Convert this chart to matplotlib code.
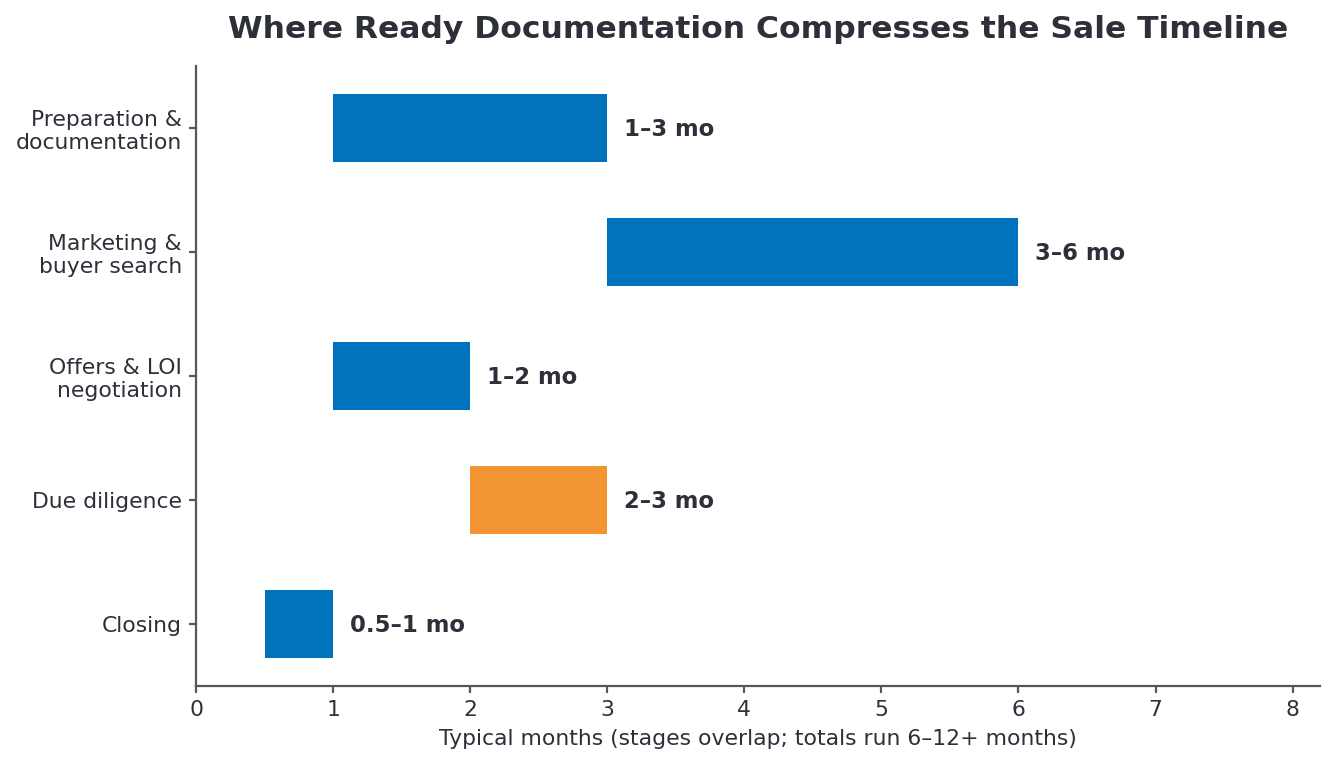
import matplotlib
matplotlib.use("Agg")
import matplotlib.pyplot as plt

stages = ["Preparation &\ndocumentation", "Marketing &\nbuyer search",
          "Offers & LOI\nnegotiation", "Due diligence", "Closing"]
start_mo = [1, 3, 1, 2, 0.5]
end_mo = [3, 6, 2, 3, 1]
range_labels = ["1–3 mo", "3–6 mo", "1–2 mo", "2–3 mo", "0.5–1 mo"]
highlight = "Due diligence"

blue = "#0173bd"
orange = "#f39533"
ink = "#2e3039"
spine = "#55575e"

fig, ax = plt.subplots(figsize=(6.67, 3.82), dpi=200)
fig.subplots_adjust(left=0.147, right=0.9895, bottom=0.102, top=0.9136)

ypos = list(range(len(stages)))
widths = [e - s for s, e in zip(start_mo, end_mo)]
colors = [orange if s == highlight else blue for s in stages]
ax.barh(ypos, widths, left=start_mo, height=0.55, color=colors)

for y, e, lab in zip(ypos, end_mo, range_labels):
    ax.annotate(lab, (e, y), xytext=(6, -0.5), textcoords="offset points",
                va="center", ha="left", fontsize=8.2, fontweight="bold", color=ink)

ax.set_yticks(ypos)
ax.set_yticklabels(stages)
ax.set_ylim(len(stages) - 0.5, -0.5)
ax.set_xlim(0, 8.2)
ax.set_xticks(range(0, 9))

ax.set_xlabel("Typical months (stages overlap; totals run 6–12+ months)",
              fontsize=7.9, color=ink, labelpad=3)
ax.set_title("Where Ready Documentation Compresses the Sale Timeline",
             fontsize=11.3, fontweight="bold", color=ink, pad=10)

for side in ["top", "right"]:
    ax.spines[side].set_visible(False)
for side in ["left", "bottom"]:
    ax.spines[side].set_color(spine)
    ax.spines[side].set_linewidth(0.8)
ax.tick_params(axis="both", labelsize=7.9, colors=spine, labelcolor=ink,
               length=2.5, width=0.8, pad=2.6)

fig.savefig("out.png", dpi=200)
